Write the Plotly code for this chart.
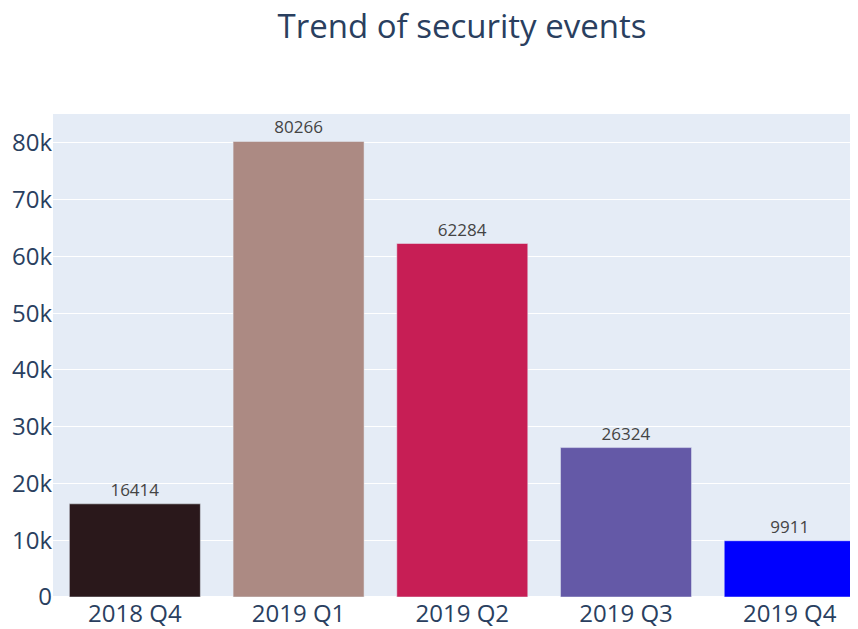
import plotly.graph_objects as go

quarters = ["2018 Q4", "2019 Q1", "2019 Q2", "2019 Q3", "2019 Q4"]
events = [16414, 80266, 62284, 26324, 9911]
bar_colors = ["#2a181b", "#ac8a83", "#c71e55", "#6459a7", "#0000ff"]

fig = go.Figure(
    go.Bar(
        x=quarters,
        y=events,
        text=events,
        textposition="outside",
        textfont=dict(size=17, color="#444"),
        marker=dict(color=bar_colors),
        cliponaxis=False,
    )
)

# the page adds an 8px body margin, so the figure is a bit smaller than the window
fig.update_layout(
    title=dict(
        text="Trend of security events",
        font=dict(size=33),
        x=454 / 850,
        xref="container",
        xanchor="center",
        y=1 - 18 / 621,
        yanchor="middle",
    ),
    width=850,
    height=621,
    margin=dict(l=45, r=0, t=106, b=32),
    showlegend=False,
    font=dict(family="Open Sans"),
)
fig.update_xaxes(range=[-0.5, 4.417], tickfont=dict(size=24))
fig.update_yaxes(range=[0, 85100], tickfont=dict(size=24), dtick=10000)

fig.write_html("out.html")
